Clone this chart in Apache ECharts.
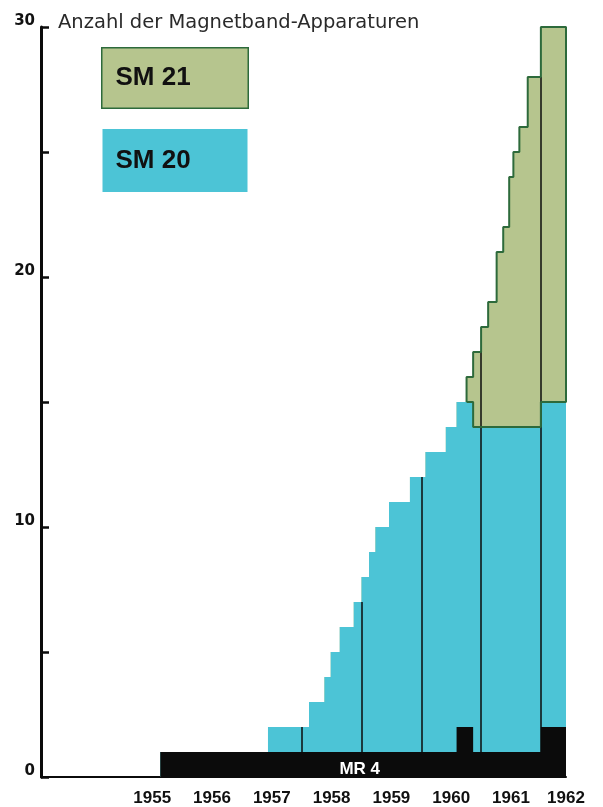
<!DOCTYPE html>
<html>
<head>
<meta charset="utf-8">
<script src="https://cdn.jsdelivr.net/npm/echarts@6/dist/echarts.min.js"></script>
<style>
html,body{margin:0;padding:0;background:#fff;}
#chart{width:603px;height:807px;}
</style>
</head>
<body>
<div id="chart"></div>
<script>
// ---- data ----
const titleText = 'Anzahl der Magnetband-Apparaturen';
const yearLabels = ['1955', '1956', '1957', '1958', '1959', '1960', '1961', '1962'];
const yTickLabels = [0, 10, 20, 30];
const yearBoundaries = [1958, 1959, 1960, 1961, 1962];
const xMin = 1953.64;
const xMax = 1962.42;
// time of each step (value holds until the next time)
const stepTimes = [1953.64, 1955.635, 1957.436, 1958.122, 1958.38, 1958.485, 1958.636, 1958.87, 1959.0,
  1959.126, 1959.233, 1959.46, 1959.81, 1960.07, 1960.41, 1960.59, 1960.757, 1960.867, 1961.0,
  1961.118, 1961.26, 1961.37, 1961.47, 1961.54, 1961.64, 1961.78, 1962.0, 1962.42];
const mr4  = [0, 1, 1, 1, 1, 1, 1, 1, 1, 1, 1, 1, 1, 1, 1, 2, 2, 1, 1, 1, 1, 1, 1, 1, 1, 1, 2, 2];
const sm20 = [0, 0, 1, 2, 3, 4, 5, 6, 7, 8, 9, 10, 11, 12, 13, 13, 13, 13, 13, 13, 13, 13, 13, 13, 13, 13, 13, 13];
const sm21 = [0, 0, 0, 0, 0, 0, 0, 0, 0, 0, 0, 0, 0, 0, 0, 0, 1, 3, 4, 5, 7, 8, 10, 11, 12, 14, 15, 15];
const mr4LabelPos = [1958.97, 0.3];

// ---- colours ----
const cBlack = '#0b0b0b';
const cCyan = '#4cc4d6';
const cGreen = '#b6c58e';
const cGreenEdge = '#2d6a3b';

// ---- derived (cumulative) structures ----
const pairs = arr => stepTimes.map((t, i) => [t, arr[i]]);
const topMR4 = mr4.slice();
const topSM20 = stepTimes.map((t, i) => mr4[i] + sm20[i]);
const topSM21 = stepTimes.map((t, i) => mr4[i] + sm20[i] + sm21[i]);

// closed outline of the SM 21 region
const outline = [];
(function () {
  const first = sm21.findIndex(v => v > 0);
  const last = stepTimes.length - 1;
  outline.push([stepTimes[first], topSM20[first]]);
  for (let i = first; i < last; i++) {
    outline.push([stepTimes[i], topSM21[i]]);
    outline.push([stepTimes[i + 1], topSM21[i]]);
  }
  for (let i = last - 1; i >= first; i--) {
    outline.push([stepTimes[i + 1], topSM20[i]]);
    outline.push([stepTimes[i], topSM20[i]]);
  }
})();

function indexBefore(t) {
  let k = 0;
  for (let i = 0; i < stepTimes.length; i++) if (stepTimes[i] < t - 1e-9) k = i;
  return k;
}
const yearLines = yearBoundaries.map(t => {
  const k = indexBefore(t);
  return [{ coord: [t, topMR4[k]] }, { coord: [t, topSM21[k]] }];
});

const labelFont = 'Liberation Sans, Arial, sans-serif';

const chart = echarts.init(document.getElementById('chart'), null, { renderer: 'canvas' });
chart.setOption({
  animation: false,
  backgroundColor: '#ffffff',
  title: {
    text: titleText,
    left: 53, top: 8,
    textStyle: { fontFamily: 'DejaVu Sans', fontSize: 19.5, fontWeight: 'normal', color: '#2a2a2a' }
  },
  legend: {
    orient: 'vertical',
    left: 92.5, top: 42,
    itemGap: 20,
    itemWidth: 0, itemHeight: 0,
    icon: 'rect',
    selectedMode: false,
    data: [
      { name: 'SM 21', textStyle: { backgroundColor: cGreen, borderColor: cGreenEdge, borderWidth: 1.5, height: 51 } },
      { name: 'SM 20', textStyle: { backgroundColor: cCyan, height: 55 } }
    ],
    textStyle: {
      fontFamily: labelFont, fontSize: 26, fontWeight: 'bold', color: '#111',
      width: 132, height: 53, lineHeight: 50, padding: [8, 0, 0, 13]
    }
  },
  grid: { left: 41, right: 37, top: 27, bottom: 29, containLabel: false },
  xAxis: {
    type: 'value', min: xMin, max: xMax,
    splitLine: { show: false },
    axisTick: { show: false },
    axisLine: { show: true, lineStyle: { color: cBlack, width: 2 } },
    axisLabel: {
      customValues: yearLabels.map(y => Math.min(Number(y) + 0.5, xMax)),
      formatter: v => String(Math.floor(v)),
      margin: 13,
      fontFamily: labelFont, fontSize: 17, fontWeight: 'bold', color: '#111'
    }
  },
  yAxis: {
    type: 'value', min: 0, max: 30, interval: 5,
    splitLine: { show: false },
    axisLine: { show: true, lineStyle: { color: cBlack, width: 3 } },
    axisTick: { show: true, inside: true, length: 8, lineStyle: { color: cBlack, width: 2.5 } },
    axisLabel: {
      formatter: v => (yTickLabels.indexOf(v) >= 0 ? String(v) : ''),
      margin: 6,
      verticalAlign: 'bottom',
      lineHeight: 11,
      fontFamily: 'DejaVu Sans', fontSize: 15, fontWeight: 'bold', color: '#111'
    }
  },
  series: [
    {
      name: 'SM 21', type: 'line', step: 'end',
      data: pairs(topSM21), showSymbol: false, symbol: 'none',
      itemStyle: { color: cGreen },
      lineStyle: { width: 0 }, areaStyle: { color: cGreen, opacity: 1 },
      z: 2
    },
    {
      name: 'SM 20', type: 'line', step: 'end',
      data: pairs(topSM20), showSymbol: false, symbol: 'none',
      itemStyle: { color: cCyan },
      lineStyle: { width: 0 }, areaStyle: { color: cCyan, opacity: 1 },
      z: 3
    },
    {
      name: 'MR 4', type: 'line', step: 'end',
      data: pairs(topMR4), showSymbol: false, symbol: 'none',
      itemStyle: { color: cBlack },
      lineStyle: { width: 0 }, areaStyle: { color: cBlack, opacity: 1 },
      markPoint: {
        symbol: 'rect', symbolSize: 1, itemStyle: { color: 'rgba(0,0,0,0)' },
        label: { show: true, position: 'inside', formatter: 'MR 4', color: '#fff',
          fontFamily: labelFont, fontSize: 17, fontWeight: 'bold' },
        data: [{ coord: mr4LabelPos }]
      },
      z: 4
    },
    {
      name: 'SM 21 Umriss', type: 'line',
      data: outline, showSymbol: false, symbol: 'none',
      lineStyle: { color: cGreenEdge, width: 2 },
      markLine: {
        silent: true, symbol: ['none', 'none'],
        label: { show: false },
        lineStyle: { color: cBlack, width: 1.5, type: 'solid' },
        data: yearLines
      },
      z: 5
    }
  ]
});
</script>
</body>
</html>
